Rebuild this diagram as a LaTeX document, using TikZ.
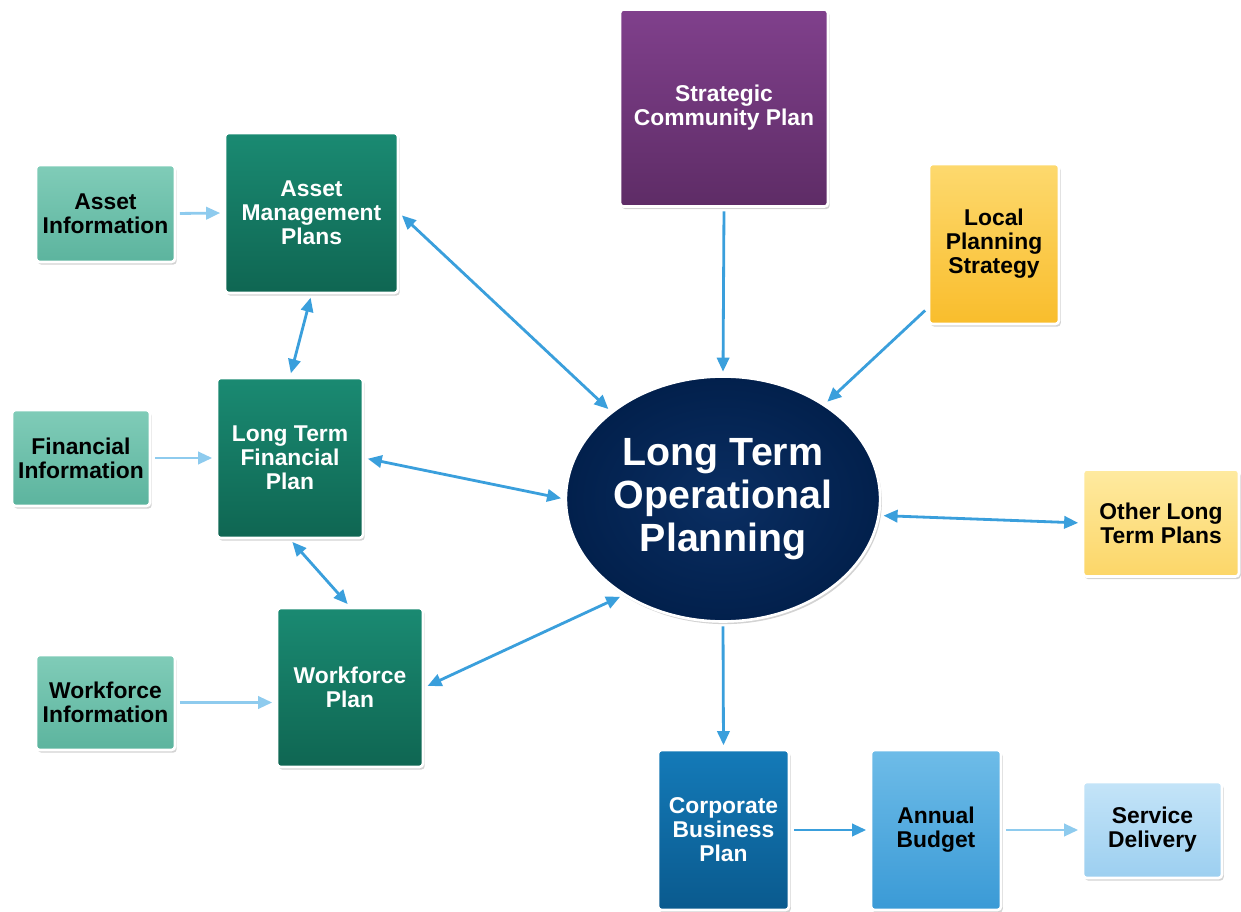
\documentclass[tikz,border=0pt]{standalone}
\usepackage{fontspec}
\setmainfont{Liberation Sans}
\usetikzlibrary{shapes.geometric,shadows,arrows.meta}

\definecolor{arrowblue}{HTML}{3A9FDC}
\definecolor{arrowlight}{HTML}{8ECBEE}

\begin{document}
\begin{tikzpicture}[x=0.02cm, y=-0.02cm]
				\tikzstyle{every node}=[inner sep=1pt, align=center, font=\bfseries\fontsize{13}{13.6}\selectfont]
				\tikzstyle{box}=[rectangle, rounded corners=2pt, draw=white, line width=1.5pt,
					drop shadow={shadow xshift=1pt, shadow yshift=-1.5pt, opacity=0.35}, shading angle=135]
				\tikzstyle{link}=[draw=arrowblue, line width=1.6pt, shorten >=2pt, shorten <=2pt, >={Triangle[length=8pt,width=7pt]}]
				\tikzstyle{feed}=[link, draw=arrowlight]
				\useasboundingbox (0, 0) rectangle (1241, 912);
				\node [box, top color={rgb,255:red,128;green,64;blue,140}, bottom color={rgb,255:red,94;green,44;blue,102}, text=white, minimum width=4.16cm, minimum height=3.94cm] (scp) at (724, 108) {Strategic\\Community Plan};
				\node [box, top color={rgb,255:red,26;green,138;blue,114}, bottom color={rgb,255:red,15;green,102;blue,82}, text=white, minimum width=3.46cm, minimum height=3.2cm] (amp) at (311.5, 213) {Asset\\Management\\Plans};
				\node [box, top color={rgb,255:red,128;green,204;blue,184}, bottom color={rgb,255:red,92;green,180;blue,158}, minimum width=2.78cm, minimum height=1.94cm] (ai) at (105.5, 213.5) {Asset\\Information};
				\node [box, top color={rgb,255:red,253;green,217;blue,110}, bottom color={rgb,255:red,249;green,189;blue,44}, minimum width=2.6cm, minimum height=3.2cm] (lps) at (994, 244) {Local\\Planning\\Strategy};
				\node [box, top color={rgb,255:red,26;green,138;blue,114}, bottom color={rgb,255:red,15;green,102;blue,82}, text=white, minimum width=2.92cm, minimum height=3.2cm] (ltfp) at (290, 458) {Long Term\\Financial\\Plan};
				\node [box, top color={rgb,255:red,128;green,204;blue,184}, bottom color={rgb,255:red,92;green,180;blue,158}, minimum width=2.76cm, minimum height=1.92cm] (fi) at (81, 458) {Financial\\Information};
				\node [ellipse, draw=white, line width=1.5pt, drop shadow={shadow xshift=1pt, shadow yshift=-1.5pt, opacity=0.35},
					inner color={rgb,255:red,10;green,46;blue,98}, outer color={rgb,255:red,2;green,32;blue,76}, text=white,
					minimum width=6.2cm, minimum height=4.9cm, font=\bfseries\fontsize{22.4}{24.5}\selectfont] (ltop) at (723, 499) {Long Term\\Operational\\Planning};
				\node [box, top color={rgb,255:red,254;green,234;blue,160}, bottom color={rgb,255:red,252;green,214;blue,104}, minimum width=3.12cm, minimum height=2.14cm] (olt) at (1161, 523) {Other Long\\Term Plans};
				\node [box, top color={rgb,255:red,26;green,138;blue,114}, bottom color={rgb,255:red,15;green,102;blue,82}, text=white, minimum width=2.92cm, minimum height=3.18cm] (wp) at (350, 687.5) {Workforce\\Plan};
				\node [box, top color={rgb,255:red,128;green,204;blue,184}, bottom color={rgb,255:red,92;green,180;blue,158}, minimum width=2.78cm, minimum height=1.9cm] (wi) at (105.5, 702.5) {Workforce\\Information};
				\node [box, top color={rgb,255:red,20;green,122;blue,184}, bottom color={rgb,255:red,10;green,90;blue,142}, text=white, minimum width=2.62cm, minimum height=3.2cm] (cbp) at (723.5, 830) {Corporate\\Business\\Plan};
				\node [box, top color={rgb,255:red,110;green,188;blue,232}, bottom color={rgb,255:red,58;green,154;blue,214}, minimum width=2.6cm, minimum height=3.2cm] (ab) at (936, 830) {Annual\\Budget};
				\node [box, top color={rgb,255:red,196;green,228;blue,248}, bottom color={rgb,255:red,156;green,207;blue,240}, minimum width=2.78cm, minimum height=1.92cm] (sd) at (1152.5, 830) {Service\\Delivery};
				\draw [feed, ->] (ai.east) -- (amp.west);
				\draw [feed, ->] (fi.east) -- (ltfp.west);
				\draw [feed, ->] (wi.east) -- (wi.east -| wp.west);
				\draw [link, <->] (amp.south) -- (ltfp.north);
				\draw [link, <->] (ltfp.south) -- (wp.north);
				\draw [link, <->] (amp.east) -- (ltop.142);
				\draw [link, <->] (ltfp.east) -- (ltop.west);
				\draw [link, <->] (wp.east) -- (ltop.224);
				\draw [link, ->] (scp.south) -- (ltop.north);
				\draw [link, ->] (lps.224) -- (ltop.43);
				\draw [link, <->] (ltop.-6) -- (olt.west);
				\draw [link, ->] (ltop.south) -- (cbp.north);
				\draw [link, ->] (cbp.east) -- (ab.west);
				\draw [feed, ->] (ab.east) -- (sd.west);
		\end{tikzpicture}
\end{document}
